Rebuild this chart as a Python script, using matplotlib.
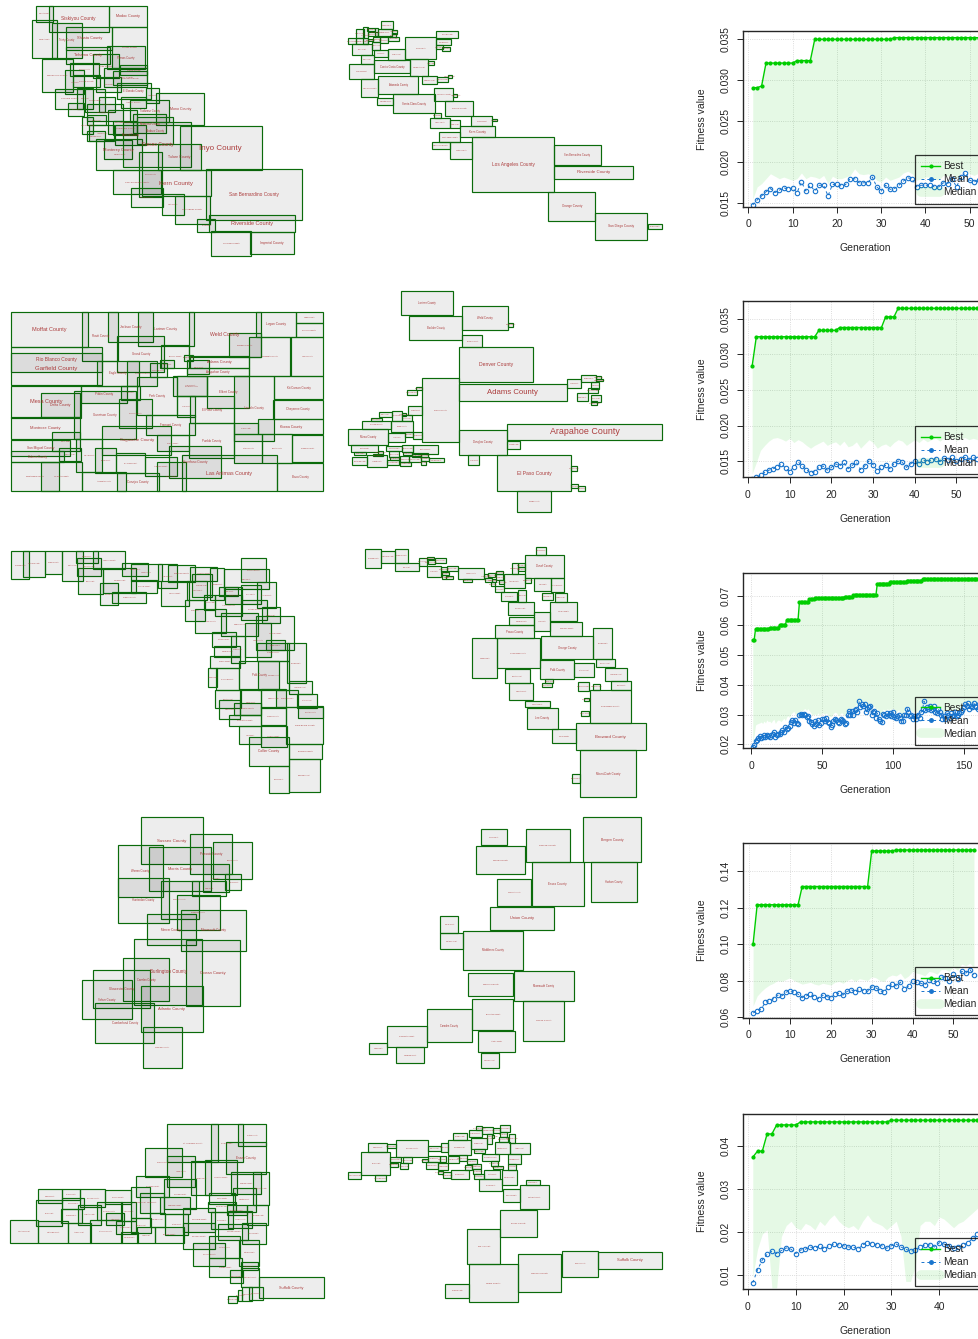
import numpy as np
import matplotlib
matplotlib.use("Agg")
import matplotlib.pyplot as plt
from matplotlib.lines import Line2D
from matplotlib.patches import Rectangle

plt.rcParams['font.family'] = ['Liberation Sans', 'DejaVu Sans']

W, H = 979, 1339

# county boxes: left, top, right, bottom, name, label size
ca_overlap = [
    (107,17,160,66,"Del Norte County",1), (146,17,326,96,"Siskiyou County",3.4), (326,17,442,80,"Modoc County",2.7),
    (95,60,171,175,"Humboldt County",1), (155,68,247,175,"Trinity County",1.8), (199,80,337,150,"Shasta County",2.8),
    (337,82,442,205,"Lassen County",1.6), (199,140,331,192,"Tehama County",2.9), (322,139,434,208,"Plumas County",1.9),
    (278,163,358,233,"Butte County",1.6), (125,176,220,275,"Mendocino County",1.7), (209,190,296,228,"Glenn County",1.3),
    (195,209,253,283,"Lake County",1), (312,205,442,262,"Placer County",1.6), (340,213,442,255,"Nevada County",1.7),
    (360,195,442,225,"Sierra County",1.6), (219,224,301,262,"Colusa County",1.6), (289,232,362,277,"Yuba County",1.1),
    (350,250,452,296,"El Dorado County",1.9), (166,266,250,326,"Sonoma County",1.7), (232,264,280,326,"Napa County",1),
    (255,267,316,335,"Yolo County",1.6), (437,263,478,310,"Alpine County",1), (362,292,437,325,"Amador County",1.5),
    (391,300,507,365,"Tuolumne County",1.9), (469,280,613,376,"Mono County",2.6), (205,310,252,348,"Marin County",1),
    (296,292,345,336,"Sutter County",1), (262,311,370,362,"Sacramento County",1.3), (325,329,412,403,"San Joaquin County",1.4),
    (262,344,319,376,"Solano County",1), (245,350,280,403,"San Francisco County",.8), (268,376,343,424,"Alameda County",1),
    (260,392,314,424,"San Mateo County",1), (340,364,412,405,"Stanislaus County",1.7), (400,342,498,400,"Mariposa County",1.9),
    (412,352,520,433,"Madera County",1.9), (344,376,437,436,"Merced County",1.8), (311,421,397,478,"Monterey County",2.9),
    (289,416,427,511,"San Benito County",1), (370,367,574,502,"Fresno County",3.4), (539,377,785,511,"Inyo County",5.8),
    (418,455,485,590,"Kings County",1.4), (475,432,602,511,"Tulare County",2.6), (340,511,484,581,"San Luis Obispo County",1.6),
    (426,511,632,587,"Kern County",4.4), (392,564,488,620,"Santa Barbara County",1), (486,581,552,646,"Ventura County",1),
    (525,587,630,672,"Los Angeles County",1.6), (617,508,907,661,"San Bernardino County",3.4), (592,657,646,697,"Orange County",.8),
    (626,646,885,697,"Riverside County",4), (634,692,753,768,"San Diego County",1.5), (751,697,881,761,"Imperial County",2.4),
]
ca_sized = [
    (396,412,642,576,"Los Angeles County",3.4), (642,436,782,496,"San Bernardino County",1.8), (642,498,880,536,"Riverside County",3.2),
    (625,576,766,663,"Orange County",2.2), (766,639,922,720,"San Diego County",2.3), (923,671,966,688,"Imperial County",1),
    (360,379,466,411,"Kern County",2.2), (330,427,395,478,"Ventura County",1.1), (276,427,329,448,"San Luis Obispo County",.9),
    (298,397,360,425,"Santa Barbara County",1.2), (271,353,329,383,"Tulare County",1.1), (329,361,360,383,"Kings County",.9),
    (394,349,456,379,"Fresno County",1.1), (456,356,470,364,"Inyo County",.3), (314,304,400,349,"Fresno County",1.6),
    (160,282,284,340,"Santa Clara County",2), (111,293,160,316,"San Mateo County",1), (283,265,340,304,"San Joaquin County",1.1),
    (340,282,352,290,"Amador County",.3), (282,340,302,353,"Merced County",.4), (115,229,234,281,"Alameda County",1.9),
    (62,237,115,292,"San Francisco County",1), (103,181,209,220,"Contra Costa County",1.9), (26,193,103,237,"Sonoma County",1.1),
    (209,176,264,229,"Sacramento County",1), (264,184,282,196,"Yuba County",.4), (247,229,290,253,"Stanislaus County",.9),
    (290,230,325,247,"Santa Cruz County",.8), (325,226,335,233,"Calaveras County",.3), (36,132,97,165,"Marin County",1),
    (62,165,103,191,"Napa County",.8), (143,147,195,180,"Solano County",1), (103,150,143,172,"Yolo County",.8),
    (195,112,288,176,"Placer County",1.1), (288,93,355,115,"El Dorado County",1), (288,118,334,134,"Nevada County",.8),
    (288,136,309,146,"Sutter County",.4), (307,141,331,152,"Lake County",.4), (25,115,47,132,"Del Norte County",.4),
    (47,88,72,115,"Siskiyou County",.5), (70,80,83,132,"Trinity County",.3), (47,115,85,132,"Humboldt County",.6),
    (85,117,100,123,"Modoc County",.3), (97,125,121,149,"Shasta County",.6), (100,110,119,125,"Tehama County",.4),
    (119,110,143,130,"Glenn County",.5), (143,110,178,122,"Butte County",.7), (113,88,155,107,"Lassen County",.8),
    (123,64,159,88,"Plumas County",.7), (82,84,105,92,"Sierra County",.4), (85,97,113,108,"Colusa County",.5),
    (155,90,172,101,"Alpine County",.3), (155,100,167,110,"Mono County",.3), (105,85,115,107,"Mendocino County",.3),
]
co_overlap = [
    (32,80,265,187,"Moffat County",4), (247,80,355,227,"Routt County",2.1), (323,80,460,172,"Jackson County",2.2),
    (413,80,583,182,"Larimer County",2.4), (567,80,782,215,"Weld County",3.7), (768,80,888,155,"Logan County",2.3),
    (889,80,968,115,"Sedgwick County",1), (887,115,968,155,"Phillips County",1.5), (688,145,782,215,"Morgan County",1.6),
    (874,157,970,272,"Yuma County",1.3), (748,157,870,272,"Washington County",1.4), (32,187,306,262,"Rio Blanco County",3.5),
    (32,203,306,300,"Garfield County",4.4), (352,152,493,260,"Grand County",2.1), (484,179,568,250,"Boulder County",1.4),
    (481,224,521,250,"Gilpin County",.6), (449,235,500,275,"Clear Creek County",.6), (553,209,580,228,"Broomfield County",.3),
    (570,214,747,250,"Adams County",2.7), (562,250,747,272,"Arapahoe County",2.2), (562,225,628,268,"Denver County",.8),
    (290,227,418,302,"Eagle County",2.1), (382,227,472,302,"Summit County",1.6), (520,272,622,333,"Jefferson County",.9),
    (530,273,622,333,"Douglas County",1.4), (621,272,748,368,"Elbert County",2.2), (702,272,822,468,"Lincoln County",2.1),
    (822,272,970,343,"Kit Carson County",2.1), (820,344,970,402,"Cheyenne County",2.1), (775,402,970,448,"Kiowa County",2.6),
    (244,302,382,354,"Pitkin County",2.2), (362,302,420,345,"Lake County",1), (412,275,530,390,"Park County",2.1),
    (530,333,585,395,"Teller County",.8), (570,333,702,414,"El Paso County",2.1), (32,302,244,400,"Mesa County",4),
    (122,323,240,396,"Delta County",2.5), (222,318,408,463,"Gunnison County",2.2), (358,343,456,428,"Chaffee County",1.4),
    (437,390,585,450,"Fremont County",2.1), (568,415,702,520,"Pueblo County",2.1), (702,414,775,448,"Crowley County",.8),
    (702,448,787,533,"Otero County",1.4), (787,448,877,533,"Bent County",1.4), (877,450,970,530,"Prowers County",1.4),
    (832,533,970,619,"Baca County",2.1), (545,509,832,619,"Las Animas County",3.8), (508,483,664,580,"Huerfano County",2.3),
    (470,450,568,499,"Custer County",1.3), (307,422,514,510,"Saguache County",3.2), (32,395,240,463,"Montrose County",2.9),
    (155,440,239,497,"Ouray County",1.2), (32,464,210,514,"San Miguel County",2.3), (176,488,244,527,"Hinsdale County",.9),
    (32,498,192,532,"Dolores County",2), (32,532,178,619,"Montezuma County",1.5), (122,532,246,619,"La Plata County",1.5),
    (228,463,306,562,"San Juan County",.9), (286,488,348,565,"Mineral County",.8), (246,562,378,619,"Archuleta County",1.4),
    (347,505,434,565,"Rio Grande County",1.1), (434,517,530,573,"Alamosa County",1.4), (350,565,478,619,"Conejos County",2.2),
    (472,530,558,619,"Costilla County",1.2),
]
co_sized = [
    (182,17,338,91,"Larimer County",1.9), (208,93,367,164,"Boulder County",1.9), (367,64,503,136,"Weld County",2),
    (503,113,520,126,"Morgan County",.3), (367,151,427,187,"Broomfield County",1), (357,187,580,291,"Denver County",3.7),
    (357,296,680,349,"Adams County",5.6), (502,416,966,464,"Arapahoe County",6.4), (247,280,356,470,"Jefferson County",1.4),
    (357,434,502,510,"Douglas County",2), (471,511,694,619,"El Paso County",3.6), (532,619,632,682,"Pueblo County",1.2),
    (502,468,541,491,"Fremont County",.7), (385,511,418,540,"Teller County",.6), (694,543,710,558,"Crowley County",.3),
    (694,598,714,610,"Otero County",.3), (714,604,734,619,"Bent County",.3), (680,283,724,308,"Logan County",.8),
    (724,269,767,291,"Morgan County",.8), (767,274,783,281,"Phillips County",.3), (767,281,788,289,"Sedgwick County",.3),
    (754,291,776,311,"Yuma County",.4), (743,310,773,323,"Washington County",.4), (712,325,743,349,"Elbert County",.6),
    (754,331,782,351,"Lincoln County",.4), (754,349,771,360,"Kit Carson County",.3), (227,305,247,316,"Gilpin County",.3),
    (201,316,230,329,"Clear Creek County",.4), (205,363,246,389,"Summit County",.7), (117,381,156,396,"Routt County",.7),
    (156,377,185,408,"Grand County",.5), (185,385,197,392,"Jackson County",.3), (187,391,217,409,"Pitkin County",.5),
    (92,399,127,407,"Moffat County",.5), (65,407,152,432,"Garfield County",1.4), (152,409,218,441,"Eagle County",1.2),
    (25,433,145,481,"Mesa County",2), (145,445,194,471,"Lake County",.8), (195,441,220,455,"Park County",.4),
    (220,441,247,463,"Chaffee County",.5), (34,481,113,502,"Delta County",1.1), (139,484,186,498,"Gunnison County",.7),
    (187,480,218,502,"Saguache County",.5), (218,481,293,506,"Montrose County",1), (42,502,77,511,"Ouray County",.4),
    (113,497,130,508,"San Miguel County",.3), (147,499,178,517,"Hinsdale County",.5), (190,502,216,511,"Mineral County",.3),
    (216,505,243,515,"Custer County",.3), (243,505,263,515,"Dolores County",.3), (100,508,130,512,"San Juan County",.2),
    (36,517,82,539,"Montezuma County",.7), (82,511,142,545,"La Plata County",.9), (142,526,178,539,"Archuleta County",.6),
    (150,517,178,526,"Rio Grande County",.3), (180,514,208,530,"Alamosa County",.4), (208,514,244,532,"Conejos County",.5),
    (244,515,266,527,"Costilla County",.3), (266,518,311,532,"Huerfano County",.7), (180,530,212,543,"Las Animas County",.4),
    (243,528,257,539,"Baca County",.2),
]
fl_overlap = [
    (32,33,88,118,"Escambia County",1), (70,33,135,110,"Santa Rosa County",1), (134,33,185,103,"Okaloosa County",1),
    (185,33,250,122,"Walton County",1), (228,33,294,68,"Holmes County",.8), (232,53,302,108,"Washington County",.9),
    (280,33,374,87,"Jackson County",1.3), (235,85,308,162,"Bay County",1.2), (301,130,354,196,"Gulf County",.8),
    (308,83,409,160,"Calhoun County",1.2), (337,155,439,190,"Franklin County",1.4), (365,70,444,108,"Gadsden County",.9),
    (392,72,487,122,"Leon County",1.3), (392,120,472,160,"Wakulla County",1.3), (473,73,532,145,"Jefferson County",.8),
    (482,122,566,198,"Taylor County",1.4), (505,76,586,125,"Madison County",1.5), (570,80,650,122,"Hamilton County",1.4),
    (560,122,622,180,"Lafayette County",.8), (575,103,637,172,"Suwannee County",1), (554,180,614,244,"Dixie County",.8),
    (630,85,672,180,"Columbia County",.9), (658,140,715,168,"Union County",.6), (672,86,808,148,"Baker County",.8),
    (722,55,797,125,"Nassau County",1.4), (611,166,646,210,"Gilchrist County",.8), (645,166,727,228,"Alachua County",1.4),
    (676,140,726,193,"Bradford County",.8), (722,135,782,193,"Clay County",1.2), (772,127,828,205,"St. Johns County",1),
    (724,179,800,240,"Putnam County",1.4), (787,202,839,250,"Flagler County",1), (586,208,679,280,"Levy County",1.3),
    (664,218,774,288,"Marion County",1.4), (735,250,812,350,"Lake County",1.3), (769,228,883,330,"Volusia County",1.4),
    (797,300,856,330,"Seminole County",.9), (637,275,707,322,"Citrus County",1.4), (643,319,721,351,"Hernando County",.9),
    (692,288,736,368,"Sumter County",.9), (630,347,720,384,"Pasco County",1.4), (623,384,651,440,"Pinellas County",.8),
    (648,384,717,450,"Hillsborough County",1), (716,362,838,448,"Polk County",2), (773,362,868,450,"Osceola County",1.2),
    (772,310,868,362,"Orange County",1.3), (860,310,917,430,"Brevard County",.9), (866,424,935,462,"Indian River County",.9),
    (645,450,722,505,"Manatee County",.9), (658,481,720,536,"Sarasota County",.9), (702,488,782,525,"DeSoto County",1.5),
    (721,450,783,525,"Hardee County",.9), (686,524,784,558,"Charlotte County",1.5), (782,448,858,505,"Highlands County",.9),
    (829,449,894,502,"Okeechobee County",1), (892,462,950,503,"St. Lucie County",.9), (893,497,970,535,"Martin County",1.3),
    (782,502,858,556,"Glades County",1.3), (858,502,970,612,"Palm Beach County",1.6), (716,558,782,612,"Lee County",1.2),
    (782,558,860,622,"Hendry County",1.4), (746,590,866,678,"Collier County",2.4), (866,612,966,658,"Broward County",1.5),
    (866,658,961,756,"Miami-Dade County",1), (806,678,866,760,"Monroe County",.8),
]
fl_sized = [
    (46,26,94,84,"Escambia County",.8), (94,32,135,68,"Santa Rosa County",.9), (135,26,175,68,"Okaloosa County",.8),
    (136,70,206,94,"Bay County",.9), (207,53,230,77,"Walton County",.3), (230,50,251,58,"Holmes County",.3),
    (233,60,254,73,"Washington County",.3), (255,53,287,68,"Jackson County",.5), (230,77,274,112,"Leon County",.7),
    (274,82,290,93,"Gadsden County",.3), (290,77,324,92,"Calhoun County",.6), (276,96,298,106,"Gulf County",.3),
    (276,106,288,118,"Liberty County",.2), (288,108,308,116,"Franklin County",.3), (324,83,402,116,"Leon County",1.3),
    (340,116,367,127,"Wakulla County",.4), (402,102,415,114,"Jefferson County",.2), (415,100,436,110,"Madison County",.3),
    (406,115,425,127,"Taylor County",.3), (425,118,437,127,"Lafayette County",.2), (423,127,436,139,"Dixie County",.2),
    (438,93,460,102,"Hamilton County",.3), (437,102,458,120,"Suwannee County",.3), (448,121,462,133,"Gilchrist County",.2),
    (436,139,462,155,"Levy County",.3), (462,103,524,143,"Alachua County",1), (524,113,544,130,"Bradford County",.3),
    (486,68,505,103,"Columbia County",.3), (505,68,524,82,"Baker County",.2), (505,82,524,92,"Union County",.2),
    (524,44,643,113,"Duval County",2), (558,20,589,44,"Nassau County",.5), (553,115,602,153,"Clay County",.8),
    (602,115,643,157,"St. Johns County",.7), (575,158,608,181,"Putnam County",.5), (614,158,650,185,"Flagler County",.5),
    (452,155,502,183,"Citrus County",.8), (503,149,527,185,"Sumter County",.4), (473,185,551,226,"Marion County",1.2),
    (601,186,682,244,"Volusia County",1.2), (552,216,601,274,"Lake County",.7), (478,232,551,255,"Hernando County",1),
    (601,245,697,287,"Seminole County",1.3), (436,256,551,294,"Pasco County",2), (367,295,440,414,"Pinellas County",1),
    (441,295,569,385,"Hillsborough County",1.3), (574,288,729,358,"Orange County",2), (730,265,785,357,"Brevard County",.9),
    (739,358,794,382,"Osceola County",.9), (571,360,671,417,"Polk County",2), (672,368,731,412,"St. Lucie County",.9),
    (766,384,832,423,"Indian River County",.9), (466,387,539,429,"Manatee County",.9), (586,417,609,430,"Hardee County",.3),
    (575,430,605,442,"DeSoto County",.4), (683,425,718,452,"Okeechobee County",.5), (728,431,751,450,"Highlands County",.3),
    (784,424,842,450,"Martin County",.8), (478,430,550,480,"Sarasota County",.9), (719,450,844,550,"Palm Beach County",1.5),
    (702,474,718,482,"Glades County",.2), (692,512,718,527,"Hendry County",.3), (526,482,599,502,"Charlotte County",.9),
    (530,503,623,566,"Lee County",2), (605,568,678,610,"Collier County",1.2), (678,550,887,630,"Broward County",3.2),
    (691,630,859,772,"Miami-Dade County",2), (665,701,691,730,"Monroe County",.4),
]
nj_overlap = [
    (214,22,399,163,"Sussex County",3.2), (360,73,487,193,"Passaic County",2.3), (430,97,545,206,"Bergen County",1.2),
    (143,104,278,262,"Warren County",2), (238,110,424,243,"Morris County",2.8), (398,163,476,245,"Essex County",1),
    (466,191,514,241,"Hudson County",.7), (367,212,469,259,"Union County",.9), (145,203,296,340,"Hunterdon County",2),
    (272,212,386,326,"Somerset County",1.2), (320,254,450,360,"Middlesex County",1.3), (231,312,377,406,"Mercer County",2.2),
    (332,300,528,422,"Monmouth County",2.2), (347,390,511,589,"Ocean County",2.9), (193,386,397,584,"Burlington County",3.3),
    (160,445,296,572,"Camden County",1.9), (70,480,240,593,"Gloucester County",2.2), (37,510,185,628,"Salem County",2),
    (76,579,252,700,"Cumberland County",2.1), (212,527,399,665,"Atlantic County",2.9), (219,652,335,774,"Cape May County",1.3),
]
nj_sized = [
    (362,58,442,106,"Sussex County",1), (498,58,630,156,"Passaic County",1.7), (670,22,844,157,"Bergen County",2.4),
    (348,108,496,193,"Morris County",1.7), (411,208,513,288,"Somerset County",1.2), (515,157,671,288,"Essex County",2.2),
    (693,157,830,276,"Hudson County",1.8), (389,290,583,361,"Union County",2.9), (240,317,295,368,"Warren County",.7),
    (240,370,308,418,"Hunterdon County",.7), (310,363,489,479,"Middlesex County",2), (324,489,459,559,"Mercer County",1.7),
    (461,482,641,572,"Monmouth County",1.9), (337,566,460,660,"Burlington County",1.4), (489,573,613,692,"Ocean County",1.7),
    (202,597,335,696,"Camden County",1.8), (82,648,200,710,"Gloucester County",1.4), (355,662,464,726,"Atlantic County",1.2),
    (28,700,80,733,"Salem County",.6), (107,712,192,760,"Cumberland County",.8), (362,729,416,774,"Cape May County",.7),
]
ny_overlap = [
    (501,42,655,157,"St. Lawrence County",1.5), (632,43,728,155,"Franklin County",1.2), (715,42,797,109,"Clinton County",1.2),
    (678,97,799,192,"Essex County",2.3), (435,115,546,202,"Jefferson County",1.4), (500,137,586,231,"Lewis County",1.2),
    (572,152,634,256,"Herkimer County",.7), (614,149,712,255,"Hamilton County",1.4), (692,185,784,253,"Warren County",1.4),
    (760,185,806,286,"Washington County",.8), (407,197,508,262,"Oswego County",1.4), (493,208,589,298,"Oneida County",1.4),
    (392,231,449,325,"Onondaga County",.8), (420,249,493,308,"Cayuga County",.8), (479,260,571,313,"Madison County",1.4),
    (626,248,706,283,"Fulton County",1.2), (698,234,769,305,"Saratoga County",.9), (742,286,804,344,"Rensselaer County",.8),
    (625,275,708,306,"Montgomery County",.9), (680,286,741,316,"Schenectady County",.9), (685,302,757,353,"Albany County",1.2),
    (115,238,186,278,"Niagara County",.8), (187,236,240,270,"Orleans County",.7), (240,238,316,290,"Monroe County",1.3),
    (316,241,392,282,"Wayne County",1.3), (107,270,186,349,"Erie County",1.2), (187,265,252,296,"Genesee County",.8),
    (183,297,246,338,"Wyoming County",.8), (235,284,302,344,"Livingston County",.8), (290,276,365,330,"Ontario County",1.3),
    (317,310,373,345,"Yates County",.8), (363,277,409,333,"Seneca County",.7), (392,325,453,368,"Cortland County",.8),
    (347,334,407,373,"Tompkins County",.8), (449,308,494,350,"Chenango County",.7), (494,312,565,376,"Otsego County",.9),
    (550,293,644,365,"Schoharie County",1.4), (632,305,698,358,"Greene County",.8), (655,341,745,389,"Columbia County",1.3),
    (725,339,797,403,"Rockland County",.8), (31,331,115,399,"Chautauqua County",.8), (115,334,205,399,"Cattaraugus County",.9),
    (205,338,272,399,"Allegany County",.8), (270,330,365,399,"Steuben County",1.3), (363,365,413,399,"Chemung County",.7),
    (412,351,466,399,"Tioga County",.6), (465,350,551,399,"Broome County",1.3), (548,338,644,418,"Delaware County",1.3),
    (580,399,674,468,"Sullivan County",1.4), (626,378,720,445,"Ulster County",1.3), (718,389,778,468,"Dutchess County",.8),
    (627,443,725,502,"Orange County",1.4), (722,455,773,481,"Putnam County",.6), (722,475,778,532,"Westchester County",.8),
    (689,481,730,520,"Rockland County",.6), (778,500,971,565,"Suffolk County",2.7), (747,530,790,570,"Nassau County",.6),
    (726,531,755,573,"Queens County",.4), (715,539,727,572,"Bronx County",.2), (683,559,711,580,"Richmond County",.4),
]
ny_sized = [
    (64,125,151,195,"Erie County",1.2), (85,100,141,125,"Niagara County",.8), (141,103,167,115,"Orleans County",.4),
    (167,90,263,141,"Monroe County",1.3), (25,185,64,208,"Chautauqua County",.7), (105,195,137,213,"Cattaraugus County",.4),
    (151,142,184,155,"Genesee County",.5), (151,158,175,171,"Wyoming County",.3), (190,141,216,160,"Livingston County",.3),
    (180,160,203,176,"Allegany County",.3), (263,107,304,122,"Wayne County",.6), (304,99,325,125,"Ontario County",.3),
    (325,90,392,135,"Onondaga County",1), (340,70,380,90,"Oswego County",.6), (388,61,425,82,"Jefferson County",.5),
    (393,84,440,118,"Oneida County",.7), (409,48,425,61,"St. Lawrence County",.2), (425,50,460,72,"Franklin County",.5),
    (460,53,481,70,"Clinton County",.3), (481,46,509,66,"Essex County",.4), (481,66,502,81,"Warren County",.3),
    (440,72,455,101,"Herkimer County",.2), (477,81,504,97,"Washington County",.4), (455,76,462,84,"Hamilton County",.1),
    (466,97,509,132,"Saratoga County",.6), (509,99,570,133,"Albany County",.9), (507,72,525,99,"Rensselaer County",.3),
    (401,117,435,130,"Madison County",.4), (263,137,299,155,"Cayuga County",.5), (299,139,317,155,"Seneca County",.2),
    (325,137,358,160,"Cortland County",.5), (358,136,380,152,"Chenango County",.3), (380,146,412,162,"Otsego County",.5),
    (245,146,263,155,"Yates County",.2), (259,155,293,176,"Steuben County",.5), (293,160,325,180,"Tompkins County",.5),
    (425,132,477,153,"Schenectady County",.7), (454,153,473,167,"Schoharie County",.2), (505,133,543,161,"Columbia County",.6),
    (505,161,529,180,"Greene County",.3), (293,183,309,192,"Schuyler County",.2), (309,187,332,203,"Chemung County",.3),
    (332,181,386,207,"Broome County",.8), (374,165,396,181,"Tioga County",.3), (396,162,423,178,"Delaware County",.4),
    (400,178,424,191,"Sullivan County",.3), (403,191,433,208,"Fulton County",.4), (433,179,481,206,"Ulster County",.7),
    (460,167,490,178,"Montgomery County",.4), (487,180,530,225,"Dutchess County",.6), (416,208,487,244,"Orange County",1),
    (488,237,539,276,"Rockland County",.7), (539,226,626,298,"Westchester County",.9), (558,211,600,226,"Putnam County",.6),
    (481,299,590,382,"Bronx County",1.7), (382,356,481,462,"New York County",1.2), (388,463,533,575,"Kings County",1.7),
    (534,433,664,545,"Queens County",1.7), (665,422,774,501,"Nassau County",1.1), (775,426,966,476,"Suffolk County",2.9),
    (316,521,388,564,"Richmond County",.9),
]

# fitness histories
best_a = [.0291,.0291,.0293] + [.0321]*7 + [.0324]*4 + [.0350]*18 + [.0352]*23
mean_a = [.0148,.0154,.0159,.0164,.0168,.0163,.0166,.0169,.0167,.0169,.0163,.0176,.0165,.0172,.0165,.0172,.0172,.0159,.0173,.0173,
          .0171,.0173,.0180,.0180,.0175,.0175,.0175,.0182,.0170,.0165,.0172,.0167,.0168,.0172,.0177,.0181,.0180,.0170,.0172,.0172,
          .0172,.0170,.0170,.0175,.0174,.0180,.0170,.0182,.0187,.0178,.0176,.0179,.0178,.0180,.0177]
median_a = [.0155,.0170,.0174,.0180,.0186,.0183,.0180,.0182,.0180,.0178,.0180,.0187,.0180,.0183,.0182,.0180,.0184,.0174,.0183,.0180,
            .0180,.0182,.0184,.0192,.0186,.0185,.0186,.0184,.0178,.0176,.0182,.0178,.0180,.0182,.0187,.0189,.0186,.0178,.0180,.0182,
            .0182,.0180,.0178,.0184,.0183,.0186,.0180,.0188,.0192,.0186,.0184,.0187,.0186,.0186,.0184]

best_b = [.0284] + [.0325]*15 + [.0334]*5 + [.0338]*11 + [.0353]*3 + [.0365]*20
mean_b = [.0125,.0127,.0130,.0134,.0137,.0139,.0141,.0146,.0140,.0135,.0142,.0149,.0143,.0138,.0133,.0135,.0141,.0143,.0137,.0141,
          .0146,.0143,.0148,.0139,.0144,.0148,.0138,.0143,.0150,.0145,.0136,.0141,.0144,.0139,.0146,.0150,.0148,.0141,.0146,.0150,
          .0146,.0152,.0148,.0152,.0153,.0149,.0154,.0151,.0155,.0150,.0153,.0155,.0152,.0155,.0153]
median_b = [.0132,.0148,.0165,.0172,.0178,.0182,.0183,.0181,.0178,.0182,.0176,.0180,.0177,.0172,.0168,.0172,.0175,.0178,.0172,.0175,
            .0177,.0172,.0178,.0170,.0172,.0177,.0168,.0174,.0180,.0176,.0168,.0172,.0174,.0170,.0176,.0180,.0178,.0172,.0176,.0180,
            .0176,.0181,.0177,.0180,.0182,.0178,.0182,.0180,.0183,.0179,.0181,.0183,.0180,.0182,.0180]

best_c = [.0550]*2 + [.0588]*10 + [.0590]*7 + [.0602]*5 + [.0618]*9 + [.0678]*7 + [.0688]*4 + [.0692]*21 + [.0696]*6 + [.0701]*17 + \
         [.0741]*9 + [.0745]*12 + [.0751]*11 + [.0755]*42
mean_c = [.0191,.0197,.0212,.0215,.0222,.0228,.0220,.0226,.0231,.0226,.0232,.0229,.0225,.0231,.0236,.0241,.0223,.0232,.0236,.0234,
          .0243,.0248,.0240,.0258,.0250,.0254,.0262,.0276,.0283,.0270,.0282,.0272,.0268,.0300,.0301,.0300,.0302,.0297,.0292,.0294,
          .0280,.0275,.0268,.0263,.0277,.0267,.0282,.0264,.0272,.0285,.0285,.0278,.0287,.0276,.0270,.0258,.0264,.0280,.0285,.0283,
          .0275,.0272,.0285,.0283,.0277,.0268,.0272,.0297,.0312,.0298,.0313,.0300,.0315,.0319,.0310,.0345,.0325,.0335,.0330,.0336,
          .0308,.0318,.0325,.0330,.0300,.0310,.0312,.0290,.0305,.0285,.0280,.0275,.0303,.0300,.0295,.0305,.0298,.0305,.0295,.0310,
          .0292,.0288,.0296,.0300,.0290,.0280,.0278,.0300,.0298,.0320,.0310,.0295,.0300,.0285,.0295,.0285,.0295,.0300,.0290,.0310,
          .0320,.0345,.0315,.0325,.0320,.0330,.0315,.0318,.0328,.0310,.0305,.0320,.0310,.0300,.0285,.0295,.0285,.0305,.0298,.0290,
          .0305,.0295,.0300,.0310,.0295,.0300,.0305,.0310,.0315,.0325,.0335,.0330,.0338,.0320,.0330,.0325,.0340,.0330,.0325,.0320,.0335,.0330]
median_c = [.0205,.0230,.0265,.0268,.0270,.0272,.0275,.0270,.0278,.0272,.0282,.0276,.0278,.0272,.0280,.0284,.0270,.0278,.0282,.0280,
            .0276,.0282,.0288,.0280,.0292,.0296,.0290,.0302,.0306,.0312,.0300,.0304,.0296,.0308,.0316,.0312,.0318,.0320,.0314,.0320,
            .0312,.0306,.0298,.0300,.0302,.0296,.0306,.0298,.0300,.0306,.0304,.0300,.0306,.0298,.0296,.0292,.0296,.0304,.0308,.0306,
            .0300,.0296,.0304,.0306,.0300,.0296,.0298,.0312,.0324,.0316,.0326,.0320,.0330,.0334,.0328,.0350,.0338,.0346,.0342,.0346,
            .0326,.0332,.0338,.0340,.0320,.0326,.0328,.0312,.0322,.0308,.0302,.0300,.0318,.0316,.0312,.0320,.0316,.0320,.0314,.0324,
            .0310,.0306,.0312,.0316,.0308,.0302,.0300,.0316,.0316,.0332,.0324,.0312,.0316,.0306,.0312,.0304,.0312,.0316,.0308,.0322,
            .0332,.0350,.0328,.0336,.0332,.0340,.0328,.0330,.0338,.0324,.0320,.0332,.0324,.0316,.0306,.0312,.0306,.0320,.0314,.0310,
            .0320,.0312,.0316,.0324,.0312,.0316,.0320,.0324,.0328,.0336,.0344,.0340,.0346,.0332,.0340,.0336,.0348,.0340,.0336,.0332,.0344,.0340]

best_d = [.1000] + [.1215]*11 + [.1315]*17 + [.1510]*6 + [.1515]*20
mean_d = [.0622,.0632,.0645,.0680,.0690,.0700,.0720,.0715,.0735,.0745,.0735,.0725,.0705,.0715,.0725,.0710,.0700,.0720,.0712,.0705,
          .0725,.0730,.0720,.0740,.0750,.0735,.0755,.0745,.0740,.0765,.0760,.0745,.0735,.0765,.0780,.0770,.0790,.0755,.0770,.0800,
          .0790,.0785,.0775,.0805,.0800,.0785,.0820,.0815,.0800,.0835,.0810,.0850,.0840,.0860,.0830]
median_d = [.0660,.0715,.0740,.0760,.0775,.0785,.0800,.0795,.0805,.0815,.0800,.0790,.0780,.0785,.0790,.0780,.0775,.0785,.0780,.0775,
            .0790,.0795,.0785,.0800,.0810,.0795,.0810,.0805,.0800,.0820,.0815,.0800,.0795,.0820,.0830,.0825,.0840,.0810,.0825,.0850,
            .0840,.0835,.0825,.0850,.0845,.0835,.0860,.0860,.0850,.0875,.0855,.0890,.0880,.0895,.0870]

best_e = [.0374,.0388,.0388,.0428,.0428] + [.0449]*5 + [.0456]*19 + [.0460]*26
mean_e = [.0082,.0112,.0135,.0148,.0155,.0150,.0157,.0163,.0160,.0150,.0158,.0160,.0165,.0163,.0168,.0160,.0168,.0172,.0170,.0168,
          .0165,.0165,.0160,.0170,.0175,.0172,.0170,.0168,.0162,.0168,.0172,.0165,.0160,.0155,.0158,.0165,.0170,.0170,.0165,.0175,
          .0172,.0168,.0162,.0165,.0170,.0175,.0185,.0195,.0205,.0200,.0190,.0195,.0200,.0190,.0195]
median_e = [.0095,.0160,.0195,.0205,.0070,.0070,.0190,.0215,.0225,.0210,.0205,.0220,.0215,.0205,.0225,.0215,.0230,.0240,.0225,.0215,
            .0210,.0215,.0205,.0225,.0240,.0225,.0220,.0215,.0205,.0215,.0225,.0190,.0085,.0085,.0120,.0215,.0225,.0225,.0215,.0235,
            .0230,.0220,.0210,.0220,.0225,.0235,.0245,.0255,.0265,.0260,.0250,.0255,.0265,.0250,.0255]

# panel layout in pixels: box for the map axes, with coordinates at 3x
map_panels = [
    (ca_overlap, 0, 0, 330, 270), (ca_sized, 340, 0, 330, 270),
    (co_overlap, 0, 285, 330, 230), (co_sized, 340, 285, 330, 230),
    (fl_overlap, 0, 540, 330, 265), (fl_sized, 350, 540, 300, 265),
    (nj_overlap, 70, 810, 200, 265), (nj_sized, 360, 810, 290, 265),
    (ny_overlap, 0, 1110, 330, 229), (ny_sized, 340, 1110, 330, 229),
]

GREEN = '#00CD00'
BLUE = '#1874CD'
INK = '#262626'


def add_axes_px(left, top, right, bottom):
    return fig.add_axes([left / W, 1 - bottom / H, (right - left) / W, (bottom - top) / H])


def draw_map(boxes, left, top, w, h):
    ax = add_axes_px(left, top, left + w, top + h)
    ax.set_xlim(0, w * 3)
    ax.set_ylim(h * 3, 0)
    ax.axis('off')
    for x0, y0, x1, y1, name, size in boxes:
        ax.add_patch(Rectangle((x0, y0), x1 - x0, y1 - y0, facecolor=(0, 0, 0, .07),
                               edgecolor='#0b6b0b', linewidth=.85))
        ax.text((x0 + x1) / 2, (y0 + y1) / 2, name, fontsize=size, color='#a52a2a',
                ha='center', va='center', alpha=.9)


def draw_history(best, mean, median, top, bottom, x0, xstep, xticks, y_ref, y_ref_px, ystep, yticks, yfmt, leg_top):
    left, right = 743.3, 987
    ax = add_axes_px(left, top, right, bottom)
    ax.set_xlim((left - x0) / xstep, (right - x0) / xstep)
    ax.set_ylim(y_ref - (bottom - y_ref_px) / ystep, y_ref + (y_ref_px - top) / ystep)
    g = np.arange(1, len(best) + 1)

    ax.grid(True, color='#d0d0d0', linestyle=':', linewidth=.6)
    ax.set_axisbelow(True)
    ax.fill_between(g, median, best, color=GREEN, alpha=.1, linewidth=0)
    ax.plot(g, best, color=GREEN, linewidth=1, marker='o', markersize=2)
    ax.plot(g, mean, color=BLUE, linewidth=.7, linestyle=(0, (3, 3)), marker='o', markersize=3.2,
            markerfacecolor='none', markeredgewidth=.8)

    ax.set_xticks(xticks)
    ax.set_yticks(yticks)
    ax.set_yticklabels([yfmt % v for v in yticks], rotation=90, va='center')
    ax.tick_params(labelsize=7.5, length=4, width=.7, color=INK, labelcolor=INK, pad=5)
    for s in ax.spines.values():
        s.set_color(INK)
        s.set_linewidth(1)
    ax.set_xlabel("Generation", fontsize=7.5, color=INK, va='center')
    ax.xaxis.set_label_coords(865 / W, 1 - (bottom + 41.5) / H, transform=fig.transFigure)
    fig.text(702 / W, 1 - (top + bottom) / 2 / H, "Fitness value", rotation=90, fontsize=7.5,
             color=INK, ha='center', va='center')

    handles = [Line2D([], [], color=GREEN, linewidth=1, marker='o', markersize=2),
               Line2D([], [], color=BLUE, linewidth=.7, linestyle=(0, (3, 3)), marker='o', markersize=2.5),
               Line2D([], [], color=GREEN, alpha=.1, linewidth=7, solid_capstyle='round')]
    leg = ax.legend(handles, ["Best", "Mean", "Median"], loc='upper left',
                    bbox_to_anchor=(915.3 / W, 1 - leg_top / H), bbox_transform=fig.transFigure,
                    borderaxespad=0, fontsize=7.3, frameon=True, framealpha=None, facecolor='none', fancybox=False,
                    edgecolor='black', borderpad=.6, handlelength=1.8, handletextpad=.35,
                    labelspacing=.3, labelcolor=INK)
    leg.get_frame().set_linewidth(.9)
    leg.set_clip_on(False)


fig = plt.figure(figsize=(W / 100, H / 100), dpi=100)

for boxes, left, top, w, h in map_panels:
    draw_map(boxes, left, top, w, h)

draw_history(best_a, mean_a, median_a, 31, 206.7, 748.3, 4.43, range(0, 60, 10), .015, 203.3, 8200,
             [.015, .020, .025, .030, .035], '%.3f', 155.3)
draw_history(best_b, mean_b, median_b, 301, 477, 748, 4.17, range(0, 60, 10), .015, 461, 7100,
             [.015, .020, .025, .030, .035], '%.3f', 426)
draw_history(best_c, mean_c, median_c, 572.7, 748.3, 751.3, 1.416, range(0, 200, 50), .02, 744.3, 2972,
             [.02, .03, .04, .05, .06, .07], '%.2f', 696.5)
draw_history(best_d, mean_d, median_d, 843, 1018, 749, 4.09, range(0, 60, 10), .06, 1017, 1825,
             [.06, .08, .10, .12, .14], '%.2f', 967)
draw_history(best_e, mean_e, median_e, 1114, 1289, 748, 4.8, range(0, 60, 10), .01, 1275, 4300,
             [.01, .02, .03, .04], '%.2f', 1238)

fig.savefig("out.png", dpi=100)
